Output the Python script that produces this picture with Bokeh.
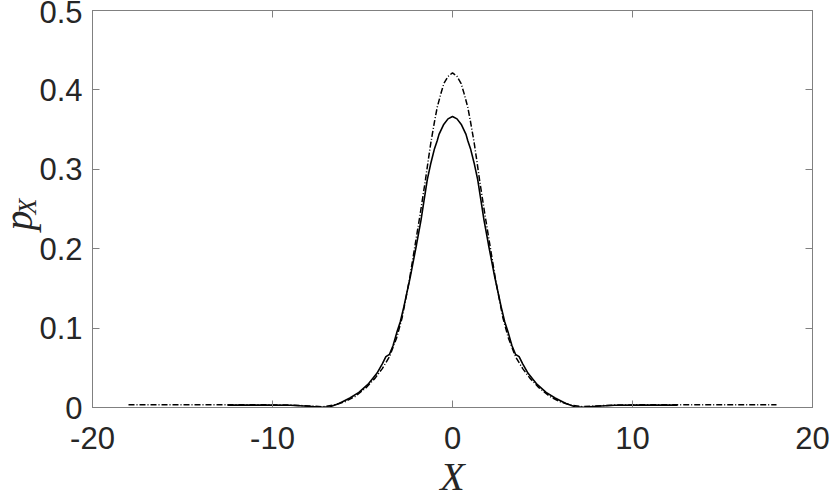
import math
from bokeh.plotting import figure
from bokeh.models import Label, Title, LinearAxis, FixedTicker, CustomJSTickFormatter, Range1d
from bokeh.embed import file_html
from bokeh.resources import INLINE

# ---- data ----
x_ticks = [-20, -10, 0, 10, 20]
x_tick_labels = ["-20", "-10", "0", "10", "20"]
y_ticks = [0, 0.1, 0.2, 0.3, 0.4, 0.5]
y_tick_labels = ["0", "0.1", "0.2", "0.3", "0.4", "0.5"]
x_title = "X"
y_title_main = "p"
y_title_sub = "X"

solid_x = [-12.5, -11, -10, -9, -8, -7.3, -6.8, -6.3, -5.7, -5.2, -4.7, -4.2, -3.9,
           -3.7, -3.5, -3.3, -3.1, -2.9, -2.7, -2.35, -2.0, -1.75, -1.6, -1.4, -1.2,
           -1.0, -0.85, -0.75, -0.5, -0.25, 0,
           0.25, 0.5, 0.75, 0.85, 1.0, 1.2, 1.4, 1.6, 1.75, 2.0, 2.35, 2.7, 2.9, 3.1,
           3.3, 3.5, 3.7, 3.9, 4.2, 4.7, 5.2, 5.7, 6.3, 6.8, 7.3, 8, 9, 10, 11, 12.5]
solid_y = [0.003, 0.003, 0.003, 0.0028, 0.0015, 0.0002, 0.001, 0.005, 0.012, 0.019, 0.029,
           0.043, 0.055, 0.064, 0.067, 0.078, 0.094, 0.108, 0.127, 0.164, 0.205, 0.236,
           0.258, 0.287, 0.308, 0.326, 0.336, 0.344, 0.356, 0.3635, 0.3665,
           0.3635, 0.356, 0.344, 0.336, 0.326, 0.308, 0.287, 0.258, 0.236, 0.205, 0.164,
           0.127, 0.108, 0.094, 0.078, 0.067, 0.064, 0.055, 0.043, 0.029, 0.019, 0.012,
           0.005, 0.001, 0.0002, 0.0015, 0.0028, 0.003, 0.003, 0.003]

dash_x = [-18, -16, -14, -12, -10, -9, -8, -7.2, -6.6, -6.0, -5.4, -4.8, -4.3, -3.9,
          -3.5, -3.1, -2.8, -2.4, -2.06, -1.8, -1.5, -1.35, -1.2, -1.0, -0.85, -0.65,
          -0.48, -0.25, 0,
          0.25, 0.48, 0.65, 0.85, 1.0, 1.2, 1.35, 1.5, 1.8, 2.06, 2.4, 2.8, 3.1, 3.5,
          3.9, 4.3, 4.8, 5.4, 6.0, 6.6, 7.2, 8, 9, 10, 12, 14, 16, 18]
dash_y = [0.0035, 0.0035, 0.0035, 0.0035, 0.0033, 0.003, 0.002, 0.001, 0.003, 0.007,
          0.014, 0.025, 0.037, 0.049, 0.064, 0.088, 0.113, 0.160, 0.207, 0.243, 0.287,
          0.311, 0.334, 0.360, 0.378, 0.395, 0.408, 0.417, 0.4215,
          0.417, 0.408, 0.395, 0.378, 0.360, 0.334, 0.311, 0.287, 0.243, 0.207, 0.160,
          0.113, 0.088, 0.064, 0.049, 0.037, 0.025, 0.014, 0.007, 0.003, 0.001, 0.002,
          0.003, 0.0033, 0.0035, 0.0035, 0.0035, 0.0035]

AXIS_COLOR = "#808080"
TEXT_COLOR = "#262626"
SANS = "Liberation Sans"
SERIF = "Liberation Serif"

p = figure(width=830, height=496, x_range=Range1d(-20, 20), y_range=Range1d(0, 0.5),
           output_backend="svg", toolbar_location=None,
           min_border_left=92, min_border_right=18, min_border_top=10, min_border_bottom=89)
p.grid.visible = False
p.background_fill_color = "white"
p.border_fill_color = "white"
p.outline_line_color = AXIS_COLOR
p.outline_line_width = 1

p.line(dash_x, dash_y, line_color="black", line_width=1.5, line_dash="6 2 1 2")
p.line(solid_x, solid_y, line_color="black", line_width=1.6)

def style_axis(ax, ticks):
    ax.ticker = FixedTicker(ticks=ticks)
    ax.major_tick_in = 7
    ax.major_tick_out = 0
    ax.minor_tick_line_color = None
    ax.major_tick_line_color = AXIS_COLOR
    ax.axis_line_color = AXIS_COLOR
    ax.major_label_text_color = TEXT_COLOR
    ax.major_label_text_font = SANS
    ax.major_label_text_font_size = "31px"

xa = p.xaxis[0]
style_axis(xa, x_ticks)
xa.major_label_overrides = {t: s for t, s in zip(x_ticks, x_tick_labels)}
xa.major_label_standoff = 19

ya = p.yaxis[0]
style_axis(ya, y_ticks)
ya.major_label_overrides = {t: s for t, s in zip(y_ticks, y_tick_labels)}
ya.major_label_standoff = 10

empty = "return ''"
right = LinearAxis()
style_axis(right, y_ticks)
right.formatter = CustomJSTickFormatter(code=empty)
right.major_label_text_font_size = "1px"
right.major_label_standoff = 0
p.add_layout(right, "right")

top = LinearAxis()
style_axis(top, x_ticks)
top.formatter = CustomJSTickFormatter(code=empty)
top.major_label_text_font_size = "1px"
top.major_label_standoff = 0
p.add_layout(top, "above")

# titles, all hosted by the bottom side panel (not clipped there)
p.add_layout(Label(x=-74, y=241, x_units="screen", y_units="screen", text=y_title_main,
                   angle=math.pi / 2, text_font=SERIF, text_font_style="italic",
                   text_font_size="40px", text_color=TEXT_COLOR,
                   text_align="left", text_baseline="alphabetic"), "below")
p.add_layout(Title(text=x_title, align="center", vertical_align="middle", standoff=-38,
                   text_font=SERIF, text_font_style="italic", text_font_size="40px",
                   text_color=TEXT_COLOR), "below")
p.add_layout(Label(x=-65, y=282, x_units="screen", y_units="screen", text=y_title_sub,
                   angle=math.pi / 2, text_font=SERIF, text_font_style="italic",
                   text_font_size="26px", text_color=TEXT_COLOR,
                   text_align="left", text_baseline="alphabetic"), "below")

open("out.html", "w").write(file_html(p, INLINE))
